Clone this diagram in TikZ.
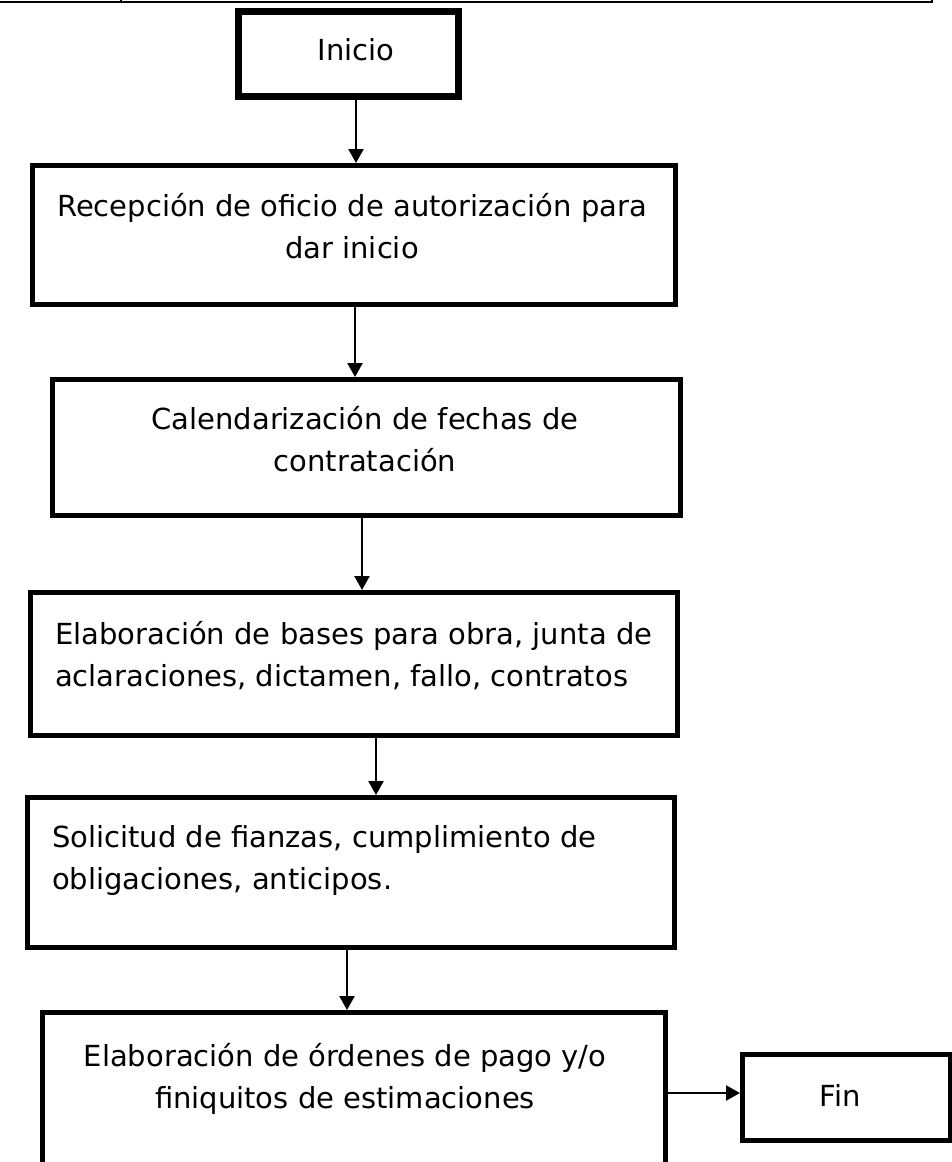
\documentclass[tikz,border=0pt]{standalone}
\usepackage{fontspec}
\setmainfont{DejaVu Sans}
\usetikzlibrary{arrows.meta}
\begin{document}
\begin{tikzpicture}[x=1pt,y=-1pt,
  box/.style={draw,line width=4.5pt,inner sep=0pt},
  thickbox/.style={draw,line width=6.5pt,inner sep=0pt},
  txt/.style={inner sep=0pt,font=\fontsize{29}{42}\selectfont},
  arr/.style={line width=2.4pt,-{Triangle[length=14pt,width=15pt]}}]
\clip (0,0) rectangle (952,1162);
\fill[white] (0,0) rectangle (952,1162);
% top table remnant
\draw[line width=2.8pt] (0,2) -- (932,2);
\draw[line width=2.5pt] (121,0) -- (121,3);
\draw[line width=2.5pt] (932,0) -- (932,3);
% boxes
\node[thickbox,minimum width=220pt,minimum height=85pt,anchor=north west] (b0) at (235,8) {};
\node[box,minimum width=643pt,minimum height=139pt,anchor=north west] (b1) at (30,163) {};
\node[box,minimum width=628pt,minimum height=136pt,anchor=north west] (b2) at (50,377) {};
\node[box,minimum width=647pt,minimum height=143pt,anchor=north west] (b3) at (28,590) {};
\node[box,minimum width=647pt,minimum height=150pt,anchor=north west] (b4) at (25,795) {};
\node[box,minimum width=623pt,minimum height=190pt,anchor=north west] (b5) at (40,1010) {};
\node[box,minimum width=208pt,minimum height=86pt,anchor=north west] (fin) at (740,1052) {};
% texts
\node[txt] (t0) at (356,50) {Inicio};
\node[txt,align=center] (t1) at (352,226) {Recepción de oficio de autorización para\\dar inicio};
\node[txt,align=center] (t2) at (365,439) {Calendarización de fechas de\\contratación};
\node[txt,align=left,anchor=west] (t3) at (55,656) {Elaboración de bases para obra, junta de\\aclaraciones, dictamen, fallo, contratos};
\node[txt,align=left,anchor=west] (t4) at (52,860) {Solicitud de fianzas, cumplimiento de\\obligaciones, anticipos.};
\node[txt,align=center] (t5) at (345,1079) {Elaboración de órdenes de pago y/o\\finiquitos de estimaciones};
\node[txt] (t6) at (840,1095) {Fin};
% arrows
\draw[arr] (b0.south -| 356,0) -- (356,163);
\draw[arr] (355,302) -- (355,377);
\draw[arr] (362,513) -- (362,590);
\draw[arr] (376,733) -- (376,795);
\draw[arr] (347,945) -- (347,1010);
\draw[arr] (668,1093) -- (fin.west |- 0,1093);
\end{tikzpicture}
\end{document}
